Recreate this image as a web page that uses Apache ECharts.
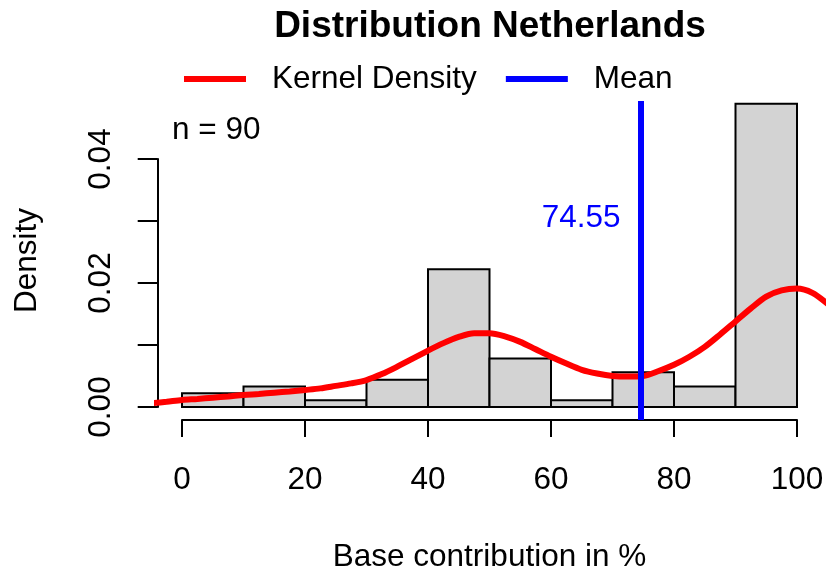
<!DOCTYPE html>
<html>
<head>
<meta charset="utf-8">
<script src="https://cdn.jsdelivr.net/npm/echarts@6/dist/echarts.min.js"></script>
<style>
  html, body { margin: 0; padding: 0; background: #fff; }
  #chart { width: 826px; height: 571px; }
</style>
</head>
<body>
<div id="chart"></div>
<script>
// Histogram bins (edges, in %) and the density of each bin
const binEdges = [0, 10, 20, 30, 40, 50, 60, 70, 80, 90, 100];
const binDensity = [0.0022, 0.0033, 0.0011, 0.0044, 0.0222, 0.0078, 0.0011, 0.0056, 0.0033, 0.0489];

// Kernel density estimate, sampled every 2.5 % along the x range
const kdeX = [-5, -2.5, 0, 2.5, 5, 7.5, 10, 12.5, 15, 17.5, 20, 22.5, 25, 27.5, 30, 32.5, 35, 37.5,
              40, 42.5, 45, 47.5, 50, 52.5, 55, 57.5, 60, 62.5, 65, 67.5, 70, 72.5, 75, 77.5,
              80, 82.5, 85, 87.5, 90, 92.5, 95, 97.5, 100, 102.5, 105];
const kdeY = [0.0006, 0.00085, 0.00113, 0.0013, 0.0015, 0.0017, 0.00194, 0.0021, 0.0023, 0.0025,
              0.00274, 0.0030, 0.0034, 0.0038, 0.00435, 0.0053, 0.0065, 0.0078,
              0.0091, 0.0103, 0.0113, 0.0119, 0.0119, 0.0114, 0.0105, 0.0093, 0.0081, 0.0070,
              0.0060, 0.0054, 0.0050, 0.0049, 0.0050, 0.0058,
              0.0068, 0.0081, 0.0097, 0.0117, 0.0138, 0.0159, 0.0178, 0.0188, 0.0191, 0.0184, 0.0166];

const meanValue = 74.55;
const sampleSize = 90;
const meanLabelY = 0.0305;

// Tick labels
const xTicks = [0, 20, 40, 60, 80, 100];
const yTickLabels = ['0.00', '0.02', '0.04'];

const FONT = '"Liberation Sans", Arial, Helvetica, sans-serif';
const FS = 31.5;

const bars = binDensity.map((d, i) => [binEdges[i], binEdges[i + 1], d]);
const kde = kdeX.map((x, i) => [x, kdeY[i]]);

const chart = echarts.init(document.getElementById('chart'), null, { renderer: 'canvas' });

chart.setOption({
  animation: false,
  backgroundColor: '#ffffff',
  textStyle: { fontFamily: FONT },
  graphic: [
    {
      type: 'text',
      style: { text: 'Distribution Netherlands', x: 490, y: 27, align: 'center', verticalAlign: 'middle',
               font: 'bold 37px ' + FONT, fill: '#000' }
    },
    {
      type: 'text',
      style: { text: 'n = ' + sampleSize, x: 172, y: 130, align: 'left', verticalAlign: 'middle',
               font: FS + 'px ' + FONT, fill: '#000' }
    }
  ],
  legend: {
    left: 184, top: 63, padding: 0,
    icon: 'rect', itemWidth: 62, itemHeight: 6, itemGap: 29,
    data: ['Kernel Density', 'Mean'],
    textStyle: { fontSize: FS, color: '#000', fontFamily: FONT, padding: [0, 0, 0, 21] }
  },
  grid: [
    // plotting region
    { left: 157.4, right: 4.4, top: 101, bottom: 151, outerBoundsMode: 'none', containLabel: false },
    // x axis (spans 0..100)
    { left: 182, right: 29, top: 300, bottom: 151, outerBoundsMode: 'none', containLabel: false },
    // y axis (spans 0..0.04)
    { left: 157.7, width: 100, top: 159, bottom: 164, outerBoundsMode: 'none', containLabel: false }
  ],
  xAxis: [
    {
      gridIndex: 0, type: 'value', min: -4, max: 104,
      axisLine: { show: false }, axisTick: { show: false }, axisLabel: { show: false }, splitLine: { show: false },
      name: 'Base contribution in %', nameLocation: 'middle', nameGap: 121,
      nameTextStyle: { fontSize: FS, color: '#000', fontFamily: FONT }
    },
    {
      gridIndex: 1, type: 'value', min: 0, max: 100, interval: 20,
      axisLine: { show: true, lineStyle: { color: '#000', width: 2 } },
      axisTick: { show: true, inside: false, length: 17, lineStyle: { color: '#000', width: 2 } },
      axisLabel: { show: true, margin: 44, fontSize: FS, color: '#000', fontFamily: FONT,
                   formatter: v => (xTicks.indexOf(v) >= 0 ? String(v) : '') },
      splitLine: { show: false }
    },
    {
      gridIndex: 2, type: 'value', show: false, min: 0, max: 1
    }
  ],
  yAxis: [
    {
      gridIndex: 0, type: 'value', min: -0.0021, max: 0.04935,
      axisLine: { show: false }, axisTick: { show: false }, axisLabel: { show: false }, splitLine: { show: false },
      name: 'Density', nameLocation: 'middle', nameRotate: 90, nameGap: 114,
      nameTextStyle: { fontSize: FS, color: '#000', fontFamily: FONT }
    },
    {
      gridIndex: 1, type: 'value', show: false, min: 0, max: 1
    },
    {
      gridIndex: 2, type: 'value', min: 0, max: 0.04, interval: 0.01,
      axisLine: { show: true, lineStyle: { color: '#000', width: 2 } },
      axisTick: { show: true, inside: false, length: 20, lineStyle: { color: '#000', width: 2 } },
      axisLabel: {
        show: true, rotate: 90, margin: 40, fontSize: FS, color: '#000', fontFamily: FONT,
        formatter: v => {
          const s = v.toFixed(2);
          return yTickLabels.indexOf(s) >= 0 ? s : '';
        }
      },
      splitLine: { show: false }
    }
  ],
  series: [
    {
      name: 'Histogram', type: 'custom', xAxisIndex: 0, yAxisIndex: 0,
      data: bars, z: 1,
      renderItem: (params, api) => {
        const p0 = api.coord([api.value(0), 0]);
        const p1 = api.coord([api.value(1), api.value(2)]);
        return {
          type: 'rect',
          shape: { x: p0[0], y: p1[1], width: p1[0] - p0[0], height: p0[1] - p1[1] },
          style: { fill: '#D3D3D3', stroke: '#000', lineWidth: 2 }
        };
      }
    },
    {
      name: 'Kernel Density', type: 'line', xAxisIndex: 0, yAxisIndex: 0,
      data: kde, smooth: 0.3, showSymbol: false, symbol: 'none', clip: true, z: 3,
      lineStyle: { color: '#FF0000', width: 6 },
      itemStyle: { color: '#FF0000' }
    },
    {
      name: 'Mean', type: 'scatter', xAxisIndex: 0, yAxisIndex: 0,
      data: [[meanValue, meanLabelY]], symbolSize: 0, z: 4,
      itemStyle: { color: '#0000FF', opacity: 1 },
      label: {
        show: true, position: 'left', distance: 20,
        formatter: p => p.value[0].toFixed(2),
        fontSize: FS, color: '#0000FF', fontFamily: FONT, opacity: 1
      },
      markLine: {
        silent: true, symbol: ['none', 'none'], animation: false,
        label: { show: false },
        lineStyle: { color: '#0000FF', width: 6, type: 'solid', opacity: 1 },
        data: [{ xAxis: meanValue }]
      }
    }
  ]
});
</script>
</body>
</html>
